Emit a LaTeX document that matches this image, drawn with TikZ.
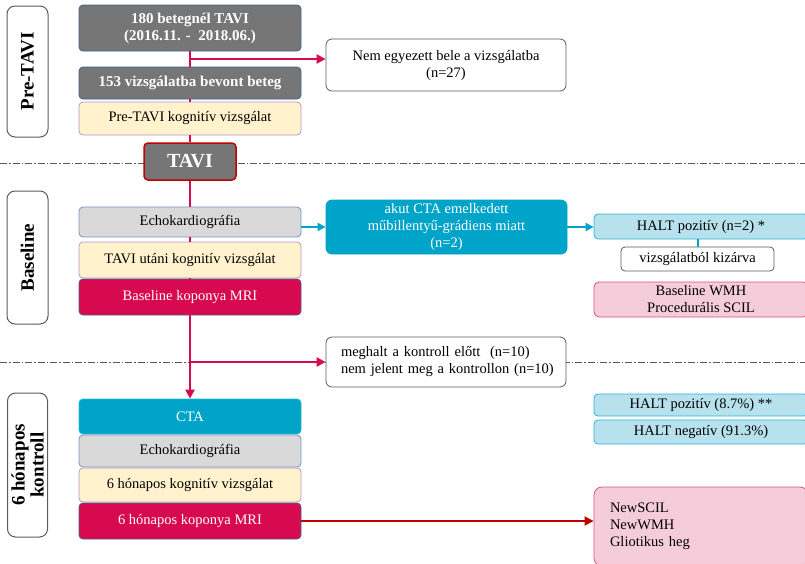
\documentclass[tikz,border=0pt]{standalone}
\usepackage{fontspec}
\setmainfont{Liberation Serif}
\usetikzlibrary{arrows.meta}

\definecolor{darkbox}{RGB}{118,118,118}
\definecolor{darkedge}{RGB}{70,95,135}
\definecolor{lightbox}{RGB}{217,217,217}
\definecolor{lightedge}{RGB}{125,145,185}
\definecolor{cogfill}{RGB}{255,242,204}
\definecolor{cogedge}{RGB}{180,150,205}
\definecolor{mrifill}{RGB}{215,10,80}
\definecolor{ctafill}{RGB}{0,164,200}
\definecolor{ctaedge}{RGB}{40,180,215}
\definecolor{haltfill}{RGB}{183,225,236}
\definecolor{pinkfill}{RGB}{244,204,218}
\definecolor{pinkedge}{RGB}{225,80,120}
\definecolor{tavired}{RGB}{192,0,0}
\definecolor{sepgray}{RGB}{90,90,90}

\begin{document}
\begin{tikzpicture}[x=1pt,y=-1pt,
  txt/.style={font=\fontsize{14.5}{17}\selectfont},
  box/.style={txt, draw, rounded corners=4pt, line width=0.8pt, align=center, inner sep=2pt},
  mainbox/.style={box, minimum width=222pt},
  darkstep/.style={mainbox, fill=darkbox, draw=darkedge, text=white, font=\fontsize{15}{18}\selectfont\bfseries},
  echostep/.style={mainbox, fill=lightbox, draw=lightedge},
  cogstep/.style={mainbox, fill=cogfill, draw=cogedge},
  mristep/.style={mainbox, fill=mrifill, draw=darkedge, text=white},
  ctastep/.style={mainbox, fill=ctafill, draw=ctaedge, text=white},
  outbox/.style={box, fill=white, draw=sepgray, rounded corners=6pt},
  haltbox/.style={box, fill=haltfill, draw=ctaedge, minimum width=214pt},
  pinkbox/.style={box, fill=pinkfill, draw=pinkedge, rounded corners=8pt, minimum width=214pt},
  phase/.style={draw=sepgray, line width=1pt, rounded corners=8pt, rotate=90, align=center,
    font=\fontsize{19}{19}\selectfont\bfseries, inner sep=0pt},
  mainline/.style={draw=mrifill, line width=2.5pt},
  tip/.style={-{Triangle[length=9pt,width=9pt]}},
  bluearrow/.style={draw=ctafill, line width=2pt, -{Triangle[length=8pt,width=8pt]}},
  separator/.style={draw=sepgray, line width=0.8pt, dash pattern=on 7pt off 2pt on 1.5pt off 2pt}
]
\clip (0,0) rectangle (805,563);

% separators
\draw[separator] (0,163) -- (805,163);
\draw[separator] (0,362) -- (805,362);

% === phases ===
\node[phase, minimum width=131pt, minimum height=41pt] (pPre) at (27.5,71.5) {Pre-TAVI};
\node[phase, minimum width=133pt, minimum height=41pt] (pBase) at (27.5,257.5) {Baseline};
\node[phase, minimum width=144pt, minimum height=40pt] (pKontroll) at (27.5,465) {6 hónapos\\kontroll};

% === Pre-TAVI ===
\node[darkstep, minimum height=46pt, font=\fontsize{15}{17}\selectfont\bfseries] (b180) at (190,28) {180 betegnél TAVI\\(2016.11. -\ \ 2018.06.)};
\node[darkstep, minimum height=32pt] (b153) at (190,83) {153 vizsgálatba bevont beteg};
\node[cogstep, minimum height=33pt] (cogPre) at (190,118.5) {Pre-TAVI kognitív vizsgálat};
\node[box, fill=darkbox, draw=tavired, line width=1.5pt, text=white, minimum width=92pt, minimum height=37pt,
  font=\fontsize{20}{20}\selectfont\bfseries] (tavi) at (190,161.5) {TAVI};
\node[outbox, minimum width=240pt, minimum height=52pt] (nem) at (446,65) {Nem egyezett bele a vizsgálatba\\(n=27)};

% === Baseline ===
\node[echostep, minimum height=30pt] (echoA) at (190,222) {Echokardiográfia};
\node[cogstep, minimum height=36pt] (cogA) at (190,260) {TAVI utáni kognitív vizsgálat};
\node[mristep, minimum height=36pt] (mriA) at (190,297) {Baseline koponya MRI};
\node[box, fill=ctafill, draw=ctafill, text=white, rounded corners=6pt, minimum width=241pt, minimum height=54pt] (akut) at (446.5,227)
  {akut CTA emelkedett\\műbillentyű-grádiens miatt\\(n=2)};
\node[haltbox, minimum height=25pt] (haltA) at (701,226.5) {HALT pozitív (n=2) *};
\node[outbox, rounded corners=4pt, minimum width=153pt, minimum height=24pt] (kizarva) at (697.5,259) {vizsgálatból kizárva};
\node[pinkbox, rounded corners=5pt, minimum height=35pt] (wmh) at (701,299.5) {Baseline WMH\\Procedurális SCIL};
\node[outbox, text width=226pt, inner xsep=7pt, align=left, minimum height=50pt] (meghalt) at (446,362)
  {\hspace*{8pt}meghalt a kontroll előtt\ \ (n=10)\\\hspace*{8pt}nem jelent meg a kontrollon (n=10)};

% === 6 honapos kontroll ===
\node[ctastep, minimum height=35pt] (cta) at (190,416.5) {CTA};
\node[echostep, minimum height=32pt] (echoB) at (190,451) {Echokardiográfia};
\node[cogstep, minimum height=34pt] (cogB) at (190,485) {6 hónapos kognitív vizsgálat};
\node[mristep, minimum height=36pt] (mriB) at (190,521) {6 hónapos koponya MRI};
\node[haltbox, minimum height=22pt] (haltB) at (701,405) {HALT pozitív (8.7\%) **};
\node[haltbox, minimum height=24pt] (haltC) at (701,432) {HALT negatív (91.3\%)};
\node[pinkbox, text width=182pt, inner xsep=16pt, align=left, minimum height=79pt] (newscil) at (701,526.5)
  {NewSCIL\\NewWMH\\Gliotikus heg};

% main line
\draw[mainline] (b180) -- (b153);
\draw[mainline] (b153) -- (cogPre);
\draw[mainline] (cogPre) -- (tavi);
\draw[mainline] (tavi) -- (echoA);
\draw[mainline] (echoA) -- (cogA);
\draw[mainline] (cogA) -- (mriA);
\draw[mainline, tip] (mriA) -- (cta);

% branches
\coordinate (br1) at (190,59);
\coordinate (br2) at (190,362);
\draw[mainline, tip] (br1) -- (nem.west |- br1);
\draw[mainline, tip] (br2) -- (meghalt.west |- br2);
\draw[bluearrow] (echoA.east |- akut.west) -- (akut.west);
\draw[bluearrow] (akut.east) -- (akut.east -| haltA.west);
\draw[draw=ctafill, line width=2pt] (haltA.south -| kizarva) -- (kizarva.north);
\draw[draw=tavired, line width=2pt, -{Triangle[length=9pt,width=9pt]}] (mriB.east) -- (mriB.east -| newscil.west);

\end{tikzpicture}
\end{document}
